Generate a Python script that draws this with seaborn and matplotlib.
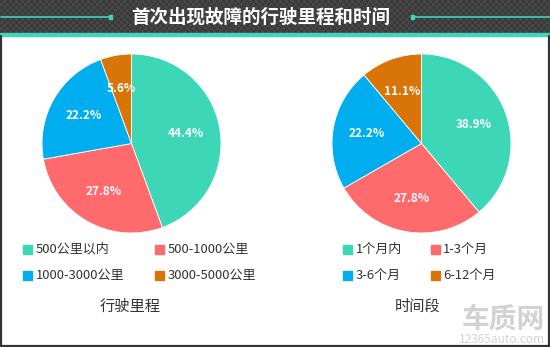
import numpy as np
import matplotlib
matplotlib.use("Agg")
import matplotlib.pyplot as plt
from matplotlib.patches import Rectangle
import seaborn as sns

sns.set_theme(style="white")
plt.rcParams["font.family"] = ["Noto Sans CJK SC", "DejaVu Sans"]

title = "首次出现故障的行驶里程和时间"

mileage_labels = ["500公里以内", "500-1000公里", "1000-3000公里", "3000-5000公里"]
mileage_share = [44.4, 27.8, 22.2, 5.6]
mileage_name = "行驶里程"

period_labels = ["1个月内", "1-3个月", "3-6个月", "6-12个月"]
period_share = [38.9, 27.8, 22.2, 11.1]
period_name = "时间段"

colors = sns.color_palette(["#3dd6b6", "#ff6a6d", "#00aeef", "#d97508"])

W, H = 550, 347
fig = plt.figure(figsize=(W / 100, H / 100), dpi=100)
fig.patch.set_facecolor("white")

# overlay axes in pixel coordinates for the frame, header and legends
bg = fig.add_axes([0, 0, 1, 1])
bg.axis("off")

# header bar with a fine checker texture
cell = 3
nx, ny = W // cell + 1, 33 // cell + 1
checker = (np.add.outer(np.arange(ny), np.arange(nx)) % 2).astype(float)
bg.imshow(checker, cmap=matplotlib.colors.ListedColormap(["#3a3a3a", "#464646"]),
          extent=(0, nx * cell, ny * cell, 0), interpolation="nearest", zorder=0)
bg.set_xlim(0, W)
bg.set_ylim(H, 0)
bg.add_patch(Rectangle((0, 33), W, 3.2, color="#3dd6b6", zorder=1))
bg.plot([1, 110], [16.5, 16.5], color="#3dd6b6", lw=1.2, zorder=2)
bg.plot([412, 550], [16.5, 16.5], color="#3dd6b6", lw=1.2, zorder=2)
bg.add_patch(Rectangle((108.5, 14.5), 3, 4, color="#3dd6b6", zorder=2))
bg.add_patch(Rectangle((410.5, 14.5), 3, 4, color="#3dd6b6", zorder=2))
bg.text(261, 17, title, color="white", fontsize=13.3, fontweight="bold",
        ha="center", va="center", zorder=3)

# panel border
bg.plot([0.8, 0.8], [36, 346], color="#333333", lw=1.6, zorder=2)
bg.plot([549.2, 549.2], [36, 346], color="#333333", lw=1.6, zorder=2)
bg.plot([0, 550], [346.2, 346.2], color="#333333", lw=1.6, zorder=2)

# watermark
bg.text(503, 320, "车质网", color="#d2d2d2", fontsize=20, fontweight="bold",
        ha="center", va="center", zorder=1)
bg.text(502, 339.5, "12365auto.com", color="#d2d2d2", fontsize=8.5,
        ha="center", va="center", zorder=1)


def draw_pie(cx, cy, r, values, labels, name, sq_x, txt_x, name_x):
    ax = fig.add_axes([(cx - r) / W, 1 - (cy + r) / H, 2 * r / W, 2 * r / H])
    ax.pie(values, colors=colors, startangle=90, counterclock=False,
           autopct=lambda p: f"{p:.1f}%", pctdistance=0.62,
           wedgeprops=dict(edgecolor="white", linewidth=0.6),
           textprops=dict(color="white", fontsize=8.5, fontweight="bold"))
    ax.set_xlim(-1, 1)
    ax.set_ylim(-1, 1)
    ax.set_aspect("equal")
    ax.axis("off")
    rows = [249, 275]
    for i, lab in enumerate(labels):
        row, col = divmod(i, 2)
        y = rows[row]
        bg.add_patch(Rectangle((sq_x[col], y - 4.5), 9, 9, color=colors[i], zorder=2))
        bg.text(txt_x[col], y, lab, color="#333333", fontsize=9.4,
                ha="left", va="center", zorder=2)
    bg.text(name_x, 306, name, color="#333333", fontsize=11,
            ha="center", va="center", zorder=2)


draw_pie(131.5, 143.5, 89.5, mileage_share, mileage_labels, mileage_name,
         sq_x=[23, 155], txt_x=[36, 168], name_x=130)
draw_pie(421.5, 143.5, 89.5, period_share, period_labels, period_name,
         sq_x=[343, 431], txt_x=[356, 443], name_x=418)

fig.savefig("out.png", dpi=100)
